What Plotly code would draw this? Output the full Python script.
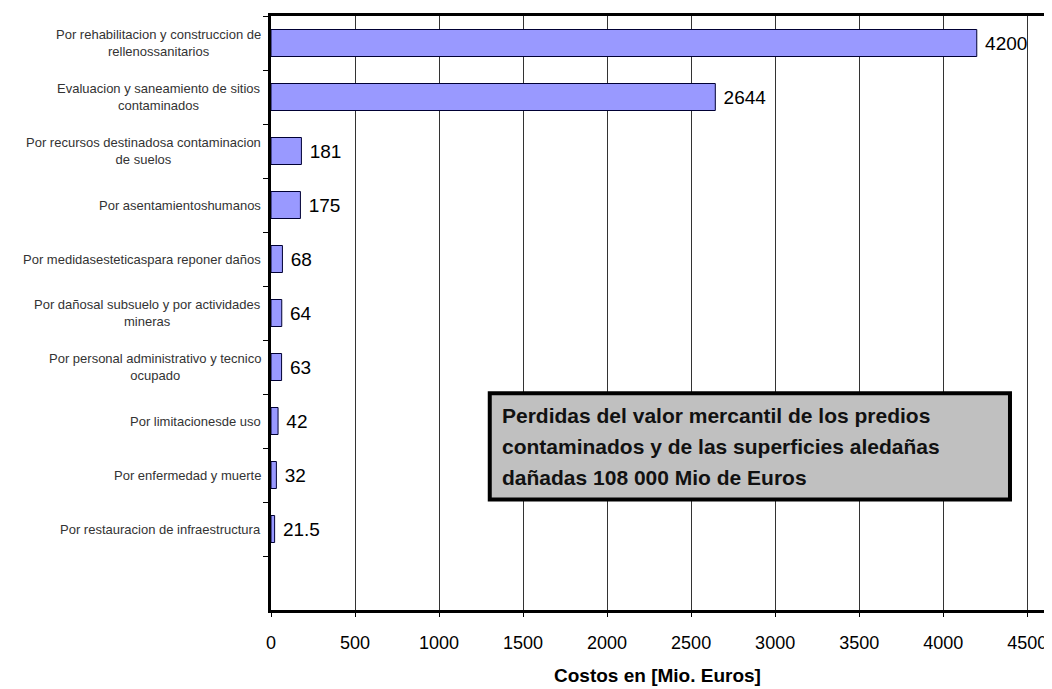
import plotly.graph_objects as go

categories = [
    "Por rehabilitacion y construccion de<br>rellenossanitarios",
    "Evaluacion y saneamiento de sitios<br>contaminados",
    "Por recursos destinadosa contaminacion<br>de suelos",
    "Por asentamientoshumanos",
    "Por medidasesteticaspara reponer daños",
    "Por dañosal subsuelo y por actividades<br>mineras",
    "Por personal administrativo y tecnico<br>ocupado",
    "Por limitacionesde uso",
    "Por enfermedad y muerte",
    "Por restauracion de infraestructura",
    " ",
]
values = [4200, 2644, 181, 175, 68, 64, 63, 42, 32, 21.5, None]
value_text = ["4200", "2644", "181", "175", "68", "64", "63", "42", "32", "21.5", ""]
x_ticks = [0, 500, 1000, 1500, 2000, 2500, 3000, 3500, 4000, 4500]
box_lines = [
    "Perdidas del valor mercantil de los predios",
    "contaminados y de las superficies aledañas",
    "dañadas 108 000 Mio de Euros",
]
x_title = "Costos en [Mio. Euros]"

font_family = "Liberation Sans, Arial, sans-serif"

fig = go.Figure()
fig.add_trace(go.Bar(
    x=values,
    y=categories,
    orientation="h",
    width=0.5,
    marker=dict(color="#9999FF", line=dict(color="#000033", width=1)),
    text=[(" " + t) if t else "" for t in value_text],
    textposition="outside",
    textfont=dict(family=font_family, size=19, color="#000000"),
    cliponaxis=False,
    showlegend=False,
))

annotations = []
for c in categories:
    if c.strip():
        annotations.append(dict(
            x=0, xref="paper", y=c, yref="y",
            text=c, showarrow=False, xanchor="right", yanchor="middle",
            align="center", xshift=-8,
            font=dict(family=font_family, size=13, color="#333333"),
        ))

# Text box
bx0, bx1, by0, by1 = 0.283, 0.956, 0.186, 0.365
line_y = [0.328, 0.275, 0.223]
for t, ly in zip(box_lines, line_y):
    annotations.append(dict(
        x=bx0, xref="paper", y=ly, yref="paper", text="<b>%s</b>" % t,
        showarrow=False, xanchor="left", yanchor="middle", xshift=10,
        font=dict(family=font_family, size=21, color="#111111"),
    ))

fig.update_layout(
    width=1044, height=681,
    margin=dict(l=263, r=7, t=5, b=79),
    paper_bgcolor="white", plot_bgcolor="white",
    annotations=annotations,
    shapes=[dict(type="rect", xref="paper", yref="paper",
                 x0=bx0, x1=bx1, y0=by0, y1=by1,
                 fillcolor="#C0C0C0", line=dict(color="#000000", width=4),
                 layer="above")],
)
fig.update_xaxes(
    range=[0, 4600], tickvals=x_ticks, ticktext=[str(v) for v in x_ticks],
    showgrid=True, gridcolor="#333333", gridwidth=1,
    showline=True, linecolor="#000000", linewidth=3, mirror=True,
    ticks="outside", ticklen=4, tickcolor="#000000",
    ticklabelstandoff=10,
    tickfont=dict(family=font_family, size=18, color="#000000"),
    title=dict(text="<b>%s</b>" % x_title, font=dict(family=font_family, size=19, color="#000000"), standoff=18),
    zeroline=False,
)
fig.update_yaxes(
    type="category", categoryorder="array", categoryarray=categories,
    autorange="reversed", showticklabels=False,
    tickson="boundaries", ticks="outside", ticklen=5, tickcolor="#000000",
    showgrid=False,
    showline=True, linecolor="#000000", linewidth=3, mirror=True,
)

fig.write_html("out.html")
